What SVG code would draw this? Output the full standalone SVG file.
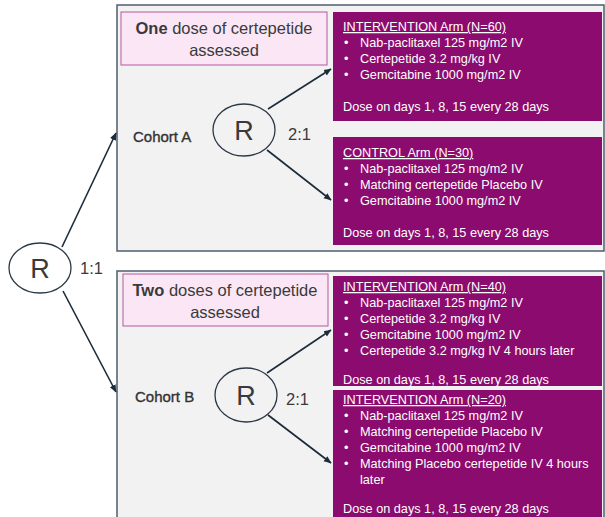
<svg xmlns="http://www.w3.org/2000/svg" width="605" height="517" viewBox="0 0 605 517">
<defs>
<marker id="ah" markerWidth="8" markerHeight="8" refX="7" refY="4" orient="auto" markerUnits="userSpaceOnUse">
<path d="M0,0.8 L7.5,4 L0,7.2 z" fill="#1c2b3a"/>
</marker>
<style>
.cohort{fill:#f2f2f2;stroke:#4d5d6c;stroke-width:1.5}
.hdr{fill:#fbe6f6;stroke:#b8579f;stroke-width:1}
.hdrt{font-family:"Liberation Sans",Arial,sans-serif;font-size:16.5px;fill:#3a3a3a;text-anchor:middle}
.arm{fill:#8c0b6e}
.at{font-family:"Liberation Sans",Arial,sans-serif;font-size:12.7px;fill:#ffffff}
.ul{text-decoration:underline}
.rc{fill:#f2f2f2;stroke:#2b3846;stroke-width:1.3}
.rt{font-family:"Liberation Sans",Arial,sans-serif;font-size:27px;fill:#3a3a3a;text-anchor:middle}
.ratio{font-family:"Liberation Sans",Arial,sans-serif;font-size:16.5px;fill:#3a3a3a}
.lbl{font-family:"Liberation Sans",Arial,sans-serif;font-size:15px;fill:#333333;stroke:#333333;stroke-width:0.35}
.conn{stroke:#1c2b3a;stroke-width:1.6;fill:none;marker-end:url(#ah)}
</style>
</defs>
<rect width="605" height="517" fill="#ffffff"/>

<g id="cohortA">
<rect class="cohort" x="117" y="5" width="487" height="246"/>
<text class="lbl" x="133" y="142">Cohort A</text>
</g>
<g id="headerA">
<rect class="hdr" x="121" y="12" width="206" height="53"/>
<text class="hdrt" x="224" y="34"><tspan font-weight="bold">One</tspan> dose of certepetide</text>
<text class="hdrt" x="224" y="56">assessed</text>
</g>
<g id="armA1">
<rect class="arm" x="333" y="12" width="269" height="109"/>
<text class="at ul" x="343" y="31">INTERVENTION Arm (N=60)</text>
<text class="at" x="344" y="47">•</text><text class="at" x="360" y="47">Nab-paclitaxel 125 mg/m2 IV</text>
<text class="at" x="344" y="63">•</text><text class="at" x="360" y="63">Certepetide 3.2 mg/kg IV</text>
<text class="at" x="344" y="79">•</text><text class="at" x="360" y="79">Gemcitabine 1000 mg/m2 IV</text>
<text class="at" x="343" y="111">Dose on days 1, 8, 15 every 28 days</text>
</g>
<g id="armA2">
<rect class="arm" x="333" y="137" width="269" height="108"/>
<text class="at ul" x="343" y="157">CONTROL Arm (N=30)</text>
<text class="at" x="344" y="173">•</text><text class="at" x="360" y="173">Nab-paclitaxel 125 mg/m2 IV</text>
<text class="at" x="344" y="189">•</text><text class="at" x="360" y="189">Matching certepetide Placebo IV</text>
<text class="at" x="344" y="205">•</text><text class="at" x="360" y="205">Gemcitabine 1000 mg/m2 IV</text>
<text class="at" x="343" y="237">Dose on days 1, 8, 15 every 28 days</text>
</g>

<g id="cohortB">
<rect class="cohort" x="117" y="271" width="487" height="256"/>
<text class="lbl" x="135" y="402">Cohort B</text>
</g>
<g id="headerB">
<rect class="hdr" x="123" y="274" width="205" height="52"/>
<text class="hdrt" x="225" y="296"><tspan font-weight="bold">Two</tspan> doses of certepetide</text>
<text class="hdrt" x="225" y="318">assessed</text>
</g>
<g id="armB1">
<rect class="arm" x="333" y="276" width="269" height="110"/>
<text class="at ul" x="343" y="291">INTERVENTION Arm (N=40)</text>
<text class="at" x="344" y="307">•</text><text class="at" x="360" y="307">Nab-paclitaxel 125 mg/m2 IV</text>
<text class="at" x="344" y="323">•</text><text class="at" x="360" y="323">Certepetide 3.2 mg/kg IV</text>
<text class="at" x="344" y="339">•</text><text class="at" x="360" y="339">Gemcitabine 1000 mg/m2 IV</text>
<text class="at" x="344" y="355">•</text><text class="at" x="360" y="355">Certepetide 3.2 mg/kg IV 4 hours later</text>
<text class="at" x="343" y="384">Dose on days 1, 8, 15 every 28 days</text>
</g>
<g id="armB2">
<rect class="arm" x="333" y="390" width="269" height="127"/>
<text class="at ul" x="343" y="404">INTERVENTION Arm (N=20)</text>
<text class="at" x="344" y="420">•</text><text class="at" x="360" y="420">Nab-paclitaxel 125 mg/m2 IV</text>
<text class="at" x="344" y="436">•</text><text class="at" x="360" y="436">Matching certepetide Placebo IV</text>
<text class="at" x="344" y="452">•</text><text class="at" x="360" y="452">Gemcitabine 1000 mg/m2 IV</text>
<text class="at" x="344" y="468">•</text><text class="at" x="360" y="468">Matching Placebo certepetide IV 4 hours</text>
<text class="at" x="360" y="484">later</text>
<text class="at" x="343" y="513">Dose on days 1, 8, 15 every 28 days</text>
</g>

<g id="connectors">
<line class="conn" x1="62" y1="247" x2="116" y2="133"/>
<line class="conn" x1="63" y1="291" x2="116" y2="392"/>
<line class="conn" x1="268" y1="109" x2="331" y2="69"/>
<line class="conn" x1="267" y1="150" x2="331" y2="200"/>
<line class="conn" x1="267" y1="373" x2="331" y2="330"/>
<line class="conn" x1="268" y1="415" x2="331" y2="463"/>
</g>

<g id="randMain">
<ellipse class="rc" cx="40" cy="268" rx="31" ry="25" style="fill:#ffffff"/>
<text class="rt" x="40" y="278">R</text>
<text class="ratio" x="80" y="274">1:1</text>
</g>
<g id="randA">
<ellipse class="rc" cx="244" cy="130" rx="31" ry="26"/>
<text class="rt" x="244" y="140">R</text>
<text class="ratio" x="288" y="140">2:1</text>
</g>
<g id="randB">
<ellipse class="rc" cx="246" cy="395" rx="31" ry="27"/>
<text class="rt" x="246" y="405">R</text>
<text class="ratio" x="286" y="405">2:1</text>
</g>
</svg>
